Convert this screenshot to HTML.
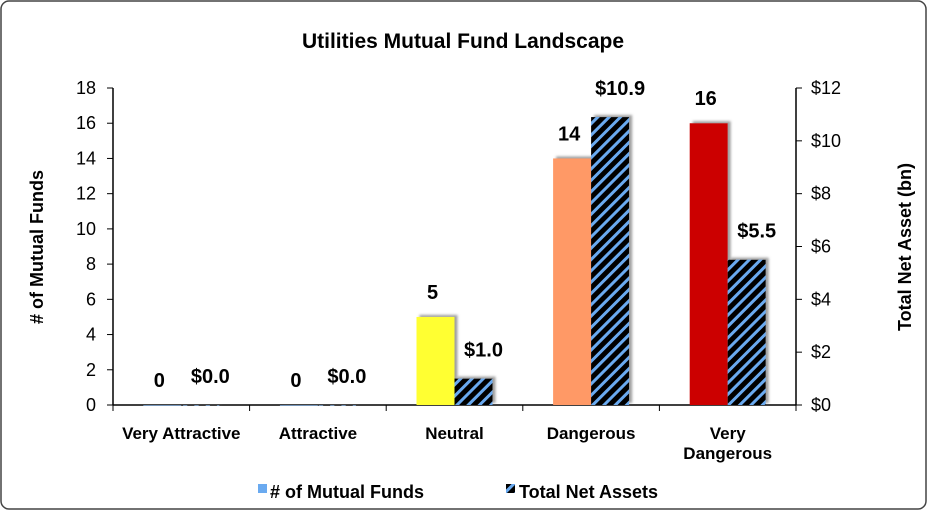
<!DOCTYPE html>
<html><head><meta charset="utf-8"><style>
body{margin:0;background:#fff;}
svg{display:block;font-family:"Liberation Sans",Arial,sans-serif;font-weight:bold;}
</style></head><body>
<svg width="927" height="510" viewBox="0 0 927 510">
<defs>
<pattern id="hatch" patternUnits="userSpaceOnUse" width="8" height="8" patternTransform="rotate(45)">
<rect width="8" height="8" fill="#000"/><rect width="3" height="8" fill="#6aaaf0"/>
</pattern>
<filter id="sh" x="-20%" y="-20%" width="150%" height="150%"><feDropShadow dx="3" dy="-2" stdDeviation="1.2" flood-color="#888" flood-opacity="0.8"/></filter>
</defs>
<rect x="1" y="1" width="925" height="508" rx="8" fill="#fff" stroke="#444" stroke-width="1.5"/>
<text x="463" y="48" text-anchor="middle" font-size="21">Utilities Mutual Fund Landscape</text>
<g id="axes"></g>
<g id="bars"></g>
<text transform="translate(43,247) rotate(-90)" text-anchor="middle" font-size="18"># of Mutual Funds</text>
<text transform="translate(911,247) rotate(-90)" text-anchor="middle" font-size="18">Total Net Asset (bn)</text>
<g>
<rect x="258" y="484" width="9" height="9" fill="#6aaaf0"/>
<text x="270" y="498" font-size="18"># of Mutual Funds</text>
<rect x="506" y="484" width="9" height="9" fill="url(#hatch)"/>
<text x="519" y="498" font-size="18">Total Net Assets</text>
</g>
</svg>
<script>
const categories=["Very Attractive","Attractive","Neutral","Dangerous","Very Dangerous"];
const fundCounts=[0,0,5,14,16];
const netAssets=[0,0,1.0,10.9,5.5];
const leftTicks=[0,2,4,6,8,10,12,14,16,18];
const rightTicks=[0,2,4,6,8,10,12];
const fundColors=["#6aaaf0","#6aaaf0","#ffff33","#ff9966","#cc0000"];
const NS="http://www.w3.org/2000/svg";
const X0=113,X1=796,Y0=405,Y1=88;
const yL=v=>Y0-(v/18)*(Y0-Y1);
const yR=v=>Y0-(v/12)*(Y0-Y1);
const cw=(X1-X0)/categories.length;
const cx=i=>X0+cw*(i+0.5);
function mk(tag,attrs,parent,txt){const e=document.createElementNS(NS,tag);for(const k in attrs)e.setAttribute(k,attrs[k]);if(txt!==undefined)e.textContent=txt;parent.appendChild(e);return e;}
const ax=document.getElementById('axes'),bg=document.getElementById('bars');
let l=mk('line',{x1:X0,y1:Y1,x2:X0,y2:Y0,stroke:'#000','stroke-width':1.5},ax);


l=mk('line',{x1:X1,y1:Y1,x2:X1,y2:Y0,stroke:'#000','stroke-width':1.5},ax);


l=mk('line',{x1:X0,y1:Y0,x2:X1,y2:Y0,stroke:'#000','stroke-width':1.5},ax);


leftTicks.forEach(v=>{const y=yL(v);mk('line',{x1:X0-6,y1:y,x2:X0,y2:y,stroke:'#000'},ax);
const t=mk('text',{x:X0-17,y:y+6,'text-anchor':'end','font-size':18,'font-weight':'normal'},ax,String(v));

});
rightTicks.forEach(v=>{const y=yR(v);mk('line',{x1:X1,y1:y,x2:X1+6,y2:y,stroke:'#000'},ax);
const t=mk('text',{x:X1+15,y:y+6,'font-size':18,'font-weight':'normal'},ax,'$'+v);

});
for(let i=0;i<=categories.length;i++){const x=X0+cw*i;mk('line',{x1:x,y1:Y0,x2:x,y2:Y0+6,stroke:'#000'},ax);}
categories.forEach((c,i)=>{const parts=c==="Very Dangerous"?["Very","Dangerous"]:[c];
parts.forEach((p,j)=>{const t=mk('text',{x:cx(i),y:439+j*20,'text-anchor':'middle','font-size':17},ax,p);

});
const bw=38;
const fy=yL(fundCounts[i]);
const b1=mk('rect',{x:cx(i)-bw,y:fy,width:bw,height:Math.max(Y0-fy,0.5),fill:fundColors[i],filter:'url(#sh)'},bg);


const ay=yR(netAssets[i]);
const b2=mk('rect',{x:cx(i),y:ay,width:bw,height:Math.max(Y0-ay,0.5),fill:'url(#hatch)',filter:'url(#sh)'},bg);


const t1=mk('text',{x:cx(i)-bw/2-3,y:fy-18,'text-anchor':'middle','font-size':20},bg,String(fundCounts[i]));


const t2=mk('text',{x:cx(i)+bw/2+10,y:ay-22,'text-anchor':'middle','font-size':20},bg,'$'+netAssets[i].toFixed(1));


});
</script>
</body></html>
